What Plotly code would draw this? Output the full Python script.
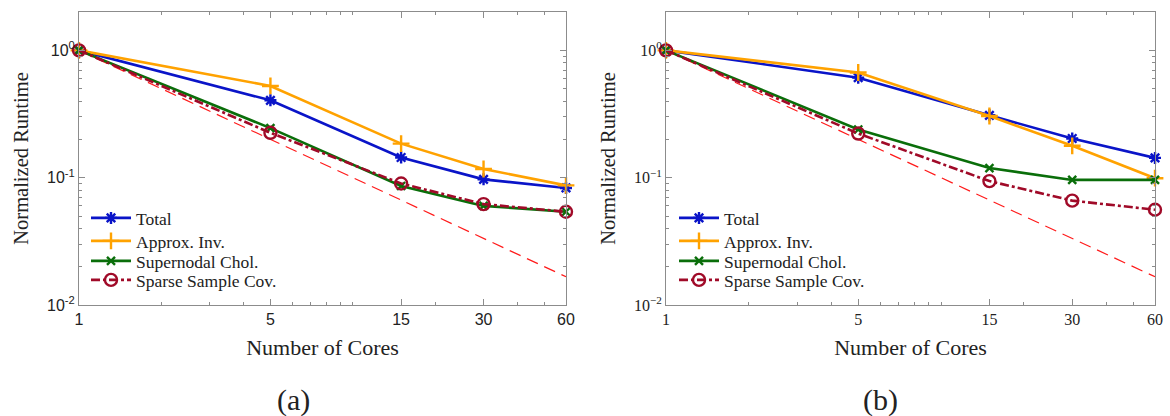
import math
import plotly.graph_objects as go

# Core counts on the horizontal axis
cores = [1, 5, 15, 30, 60]
series_names = ["Total", "Approx. Inv.", "Supernodal Chol.", "Sparse Sample Cov."]

# Panel (a): normalized runtimes
a_total = [1.0, 0.405, 0.144, 0.097, 0.083]
a_approx = [1.0, 0.525, 0.185, 0.117, 0.087]
a_chol = [1.0, 0.245, 0.086, 0.060, 0.054]
a_cov = [1.0, 0.225, 0.090, 0.062, 0.054]

# Panel (b): normalized runtimes
b_total = [1.0, 0.61, 0.309, 0.203, 0.143]
b_approx = [1.0, 0.67, 0.305, 0.178, 0.099]
b_chol = [1.0, 0.239, 0.119, 0.096, 0.096]
b_cov = [1.0, 0.222, 0.094, 0.066, 0.056]

# Ideal linear speedup reference (runtime ~ 1/p)
ideal = [1.0 / c for c in cores]

x_tick_vals = [1, 5, 15, 30, 60]
x_tick_text = ["1", "5", "15", "30", "60"]
y_tick_vals = [0.01, 0.1, 1]
y_tick_text_a = ["10<sup>-2</sup>", "10<sup>-1</sup>", "10<sup>0</sup>"]
y_tick_text_b = ["10<sup>\u22122</sup>", "10<sup>\u22121</sup>", "10<sup>0</sup>"]

x_minor = [2, 3, 4, 6, 7, 8, 9, 10, 20, 40, 50]
y_minor = [m * 10 ** e for e in (-2, -1) for m in range(2, 10)] + [2]

W, H = 1170, 416
BLUE = "#0a14c8"
ORANGE = "#ffa200"
GREEN = "#0a6e0a"
DARKRED = "#a00a28"
RED = "#ff1a1a"
AXIS = "#8c8c8c"
TEXT = "#222"
SERIF = "Liberation Serif, Times New Roman, serif"
SANS = "Liberation Sans, Helvetica, Arial, sans-serif"

styles = [
    dict(color=BLUE, symbol="asterisk-open", size=10, dash="solid"),
    dict(color=ORANGE, symbol="cross-thin-open", size=12, dash="solid"),
    dict(color=GREEN, symbol="x-thin-open", size=8, dash="solid"),
    dict(color=DARKRED, symbol="circle-open", size=12, dash="dashdot"),
]

# Legend rows (pixel centres of each entry, one legend per entry)
legend_rows = [218, 241, 261, 280]
legend_left = {"a": 86, "b": 674}

fig = go.Figure()
layout_legends = {}


def add_panel(series, xa, ya, panel, first_legend):
    fig.add_trace(go.Scatter(
        x=cores, y=ideal, mode="lines", xaxis=xa, yaxis=ya,
        line=dict(color=RED, width=1.2, dash="12px,7px"),
        showlegend=False, hoverinfo="skip"))
    for i, (name, vals, st) in enumerate(zip(series_names, series, styles)):
        idx = first_legend + i
        key = "legend" if idx == 1 else f"legend{idx}"
        fig.add_trace(go.Scatter(
            x=cores, y=vals, name=name, mode="lines+markers",
            xaxis=xa, yaxis=ya, legend=key, cliponaxis=False,
            line=dict(color=st["color"], width=2.6, dash=st["dash"]),
            marker=dict(symbol=st["symbol"], size=st["size"], color=st["color"],
                        line=dict(color=st["color"], width=2.4))))
        layout_legends[key] = dict(
            x=legend_left[panel] / W, y=1 - legend_rows[i] / H,
            xanchor="left", yanchor="middle",
            bgcolor="rgba(0,0,0,0)", borderwidth=0, itemwidth=40,
            font=dict(family=SERIF, size=17.5, color=TEXT),
        )


add_panel([a_total, a_approx, a_chol, a_cov], "x", "y", "a", 1)
add_panel([b_total, b_approx, b_chol, b_cov], "x2", "y2", "b", 5)

y_dom = [1 - 305 / H, 1 - 12 / H]


def xaxis(dom, font, anchor):
    return dict(
        type="log", domain=dom, range=[0, math.log10(60)], anchor=anchor,
        tickmode="array", tickvals=x_tick_vals, ticktext=x_tick_text,
        ticks="inside", ticklen=6, tickcolor=AXIS, tickwidth=1,
        minor=dict(tickmode="array", tickvals=x_minor, ticks="inside",
                   ticklen=3, tickcolor=AXIS, showgrid=False),
        showline=True, linecolor=AXIS, linewidth=1, mirror="allticks",
        showgrid=False, zeroline=False, automargin=False,
        tickfont=dict(family=font, size=16, color=TEXT),
        title=dict(text="Number of Cores", standoff=12,
                   font=dict(family=SERIF, size=22, color=TEXT)),
    )


def yaxis(ticktext, font, anchor):
    return dict(
        type="log", domain=y_dom, range=[-2, math.log10(2)], anchor=anchor,
        tickmode="array", tickvals=y_tick_vals, ticktext=ticktext,
        ticks="inside", ticklen=6, tickcolor=AXIS, tickwidth=1,
        minor=dict(tickmode="array", tickvals=y_minor, ticks="inside",
                   ticklen=3, tickcolor=AXIS, showgrid=False),
        showline=True, linecolor=AXIS, linewidth=1, mirror="allticks",
        showgrid=False, zeroline=False, automargin=False,
        tickfont=dict(family=font, size=16, color=TEXT),
        title=dict(text="Normalized Runtime", standoff=12,
                   font=dict(family=SERIF, size=20.5, color=TEXT)),
    )


fig.update_layout(
    width=W, height=H,
    margin=dict(l=0, r=0, t=0, b=0),
    paper_bgcolor="white", plot_bgcolor="white",
    xaxis=xaxis([79 / W, 566 / W], SANS, "y"),
    yaxis=yaxis(y_tick_text_a, SANS, "x"),
    xaxis2=xaxis([666 / W, 1155 / W], SERIF, "y2"),
    yaxis2=yaxis(y_tick_text_b, SERIF, "x2"),
    annotations=[
        dict(text="(a)", x=293 / W, y=1 - 400 / H, xref="paper", yref="paper",
             xanchor="center", yanchor="middle", showarrow=False,
             font=dict(family=SERIF, size=30, color=TEXT)),
        dict(text="(b)", x=880 / W, y=1 - 400 / H, xref="paper", yref="paper",
             xanchor="center", yanchor="middle", showarrow=False,
             font=dict(family=SERIF, size=30, color=TEXT)),
    ],
    **layout_legends,
)

fig.write_html("out.html")
